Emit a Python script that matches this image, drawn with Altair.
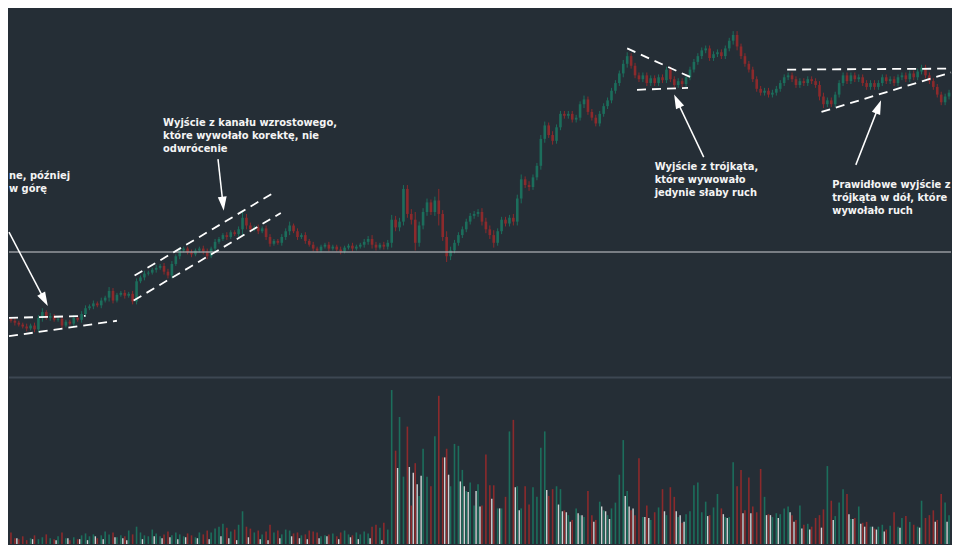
import altair as alt
import pandas as pd

# ---------------- data ----------------
# closing prices (arbitrary price units), one per candle
close = [
    75, 73, 71, 69, 67, 70, 66, 78, 84, 78, 80, 76, 77, 70, 74, 72, 78, 76, 82, 88,
    90, 93, 91, 96, 99, 106, 96, 102, 104, 101, 103, 95, 116, 120, 124, 125, 128, 130, 132, 126,
    122, 134, 142, 148, 150, 146, 144, 148, 150, 147, 142, 150, 157, 160, 164, 162, 167, 165, 170, 182,
    174, 170, 172, 168, 171, 162, 155, 158, 156, 162, 168, 174, 168, 162, 164, 158, 154, 150, 148, 152,
    154, 150, 152, 149, 147, 151, 153, 150, 152, 154, 157, 160, 154, 151, 154, 152, 156, 180, 172, 178,
    212, 186, 180, 156, 174, 188, 198, 188, 200, 186, 162, 142, 148, 156, 164, 170, 178, 184, 186, 188,
    178, 170, 164, 156, 168, 180, 176, 182, 178, 202, 222, 216, 214, 224, 236, 264, 278, 268, 262, 276,
    290, 288, 290, 284, 286, 300, 305, 292, 286, 280, 290, 298, 304, 314, 322, 332, 342, 350, 340, 330,
    326, 330, 322, 327, 322, 328, 325, 336, 326, 320, 324, 321, 328, 336, 344, 350, 356, 358, 348, 352,
    354, 350, 358, 366, 372, 360, 350, 342, 336, 326, 316, 312, 314, 310, 312, 316, 322, 328, 330, 326,
    320, 324, 322, 326, 324, 320, 308, 300, 304, 300, 310, 322, 330, 324, 330, 326, 328, 322, 318, 322,
    318, 322, 328, 324, 326, 322, 328, 330, 326, 332, 328, 334, 338, 330, 324, 318, 310, 302, 308, 312,
]
first_open = 77
# shadow length beyond the body, per candle
wick = [
    2, 3, 2, 2, 3, 2, 3, 3, 4, 2, 3, 2, 2, 3, 2, 2, 3, 2, 3, 3,
    2, 3, 2, 3, 2, 4, 3, 2, 2, 3, 2, 3, 3, 2, 3, 2, 2, 3, 2, 3,
    3, 3, 2, 3, 2, 2, 3, 2, 2, 3, 3, 2, 3, 2, 2, 3, 2, 2, 3, 6,
    4, 3, 2, 3, 2, 3, 3, 2, 2, 3, 3, 4, 2, 3, 2, 3, 2, 3, 2, 2,
    2, 3, 2, 2, 3, 2, 2, 3, 2, 2, 3, 3, 4, 3, 2, 3, 3, 5, 4, 4,
    4, 4, 5, 8, 4, 4, 4, 3, 4, 12, 4, 6, 4, 3, 3, 3, 3, 3, 3, 3,
    4, 4, 4, 5, 3, 3, 3, 3, 4, 4, 5, 3, 4, 3, 3, 4, 4, 3, 4, 3,
    3, 3, 3, 3, 3, 3, 4, 3, 3, 3, 3, 3, 3, 3, 3, 3, 4, 4, 3, 3,
    3, 3, 3, 3, 3, 3, 3, 3, 3, 3, 3, 3, 3, 3, 3, 3, 3, 3, 3, 3,
    3, 3, 3, 3, 4, 4, 3, 3, 3, 3, 3, 3, 3, 3, 3, 3, 3, 3, 3, 3,
    3, 3, 3, 3, 3, 3, 4, 4, 3, 3, 3, 3, 3, 3, 3, 3, 3, 3, 3, 3,
    3, 3, 3, 3, 3, 3, 3, 3, 3, 3, 3, 3, 3, 3, 3, 3, 3, 3, 3, 3,
]
# volume per candle
volume = [
    12, 6, 5, 8, 4, 6, 9, 5, 7, 10, 6, 5, 8, 12, 6, 4, 7, 5, 9, 11,
    8, 10, 6, 9, 13, 10, 12, 7, 9, 8, 14, 10, 18, 12, 9, 8, 15, 11, 8, 10,
    13, 9, 12, 10, 8, 11, 9, 7, 12, 10, 14, 12, 16, 18, 21, 17, 13, 15, 20, 34,
    18, 16, 12, 14, 10, 13, 20, 12, 14, 10, 15, 14, 11, 12, 9, 10, 14, 13, 12, 8,
    9, 10, 11, 8, 12, 14, 10, 9, 12, 10, 13, 11, 18, 20, 17, 22, 15, 160, 97, 132,
    70, 122, 40, 84, 50, 99, 70, 60, 112, 154, 90, 99, 60, 104, 102, 77, 55, 64, 40, 62,
    40, 93, 61, 61, 37, 37, 49, 117, 129, 60, 37, 60, 41, 59, 49, 100, 117, 50, 57, 60,
    57, 35, 30, 25, 37, 30, 28, 55, 30, 25, 44, 35, 30, 37, 43, 72, 108, 55, 35, 30,
    89, 28, 40, 25, 33, 38, 57, 30, 59, 49, 28, 22, 31, 34, 61, 64, 33, 44, 30, 38,
    52, 37, 28, 28, 85, 60, 77, 35, 69, 39, 33, 78, 49, 31, 28, 32, 31, 37, 39, 30,
    25, 40, 20, 21, 18, 27, 30, 36, 81, 45, 29, 43, 57, 52, 26, 27, 39, 22, 23, 18,
    16, 18, 20, 15, 19, 33, 18, 27, 29, 23, 20, 18, 45, 27, 30, 35, 25, 52, 43, 30,
]
# second (light) volume series, between candles; 0 = none
volume_alt = [
    0, 6, 0, 0, 0, 5, 0, 0, 0, 0, 0, 4, 0, 0, 6, 0, 0, 5, 0, 4,
    0, 8, 0, 5, 0, 0, 7, 0, 6, 4, 0, 0, 0, 5, 0, 0, 8, 0, 6, 0,
    7, 0, 5, 0, 7, 0, 0, 6, 0, 0, 5, 0, 0, 8, 0, 6, 0, 4, 0, 0,
    7, 0, 0, 5, 0, 4, 0, 0, 6, 0, 0, 8, 0, 6, 0, 5, 0, 0, 6, 0,
    8, 0, 0, 5, 0, 0, 7, 0, 5, 0, 0, 6, 0, 0, 4, 0, 0, 0, 79, 0,
    0, 80, 74, 62, 71, 0, 0, 0, 0, 0, 90, 72, 0, 0, 65, 60, 54, 0, 55, 39,
    0, 0, 47, 0, 37, 0, 0, 0, 59, 35, 0, 0, 0, 0, 0, 0, 56, 0, 0, 41,
    34, 33, 23, 0, 32, 30, 0, 0, 23, 0, 39, 34, 26, 0, 0, 0, 50, 39, 37, 0,
    0, 28, 27, 0, 0, 0, 34, 0, 0, 34, 30, 23, 0, 0, 0, 0, 0, 29, 0, 0,
    0, 31, 27, 0, 0, 0, 32, 0, 32, 0, 0, 0, 30, 30, 0, 27, 0, 0, 33, 23,
    0, 16, 0, 15, 0, 0, 17, 0, 0, 25, 0, 0, 0, 31, 26, 0, 21, 18, 0, 18,
    15, 0, 13, 0, 0, 0, 17, 0, 0, 0, 0, 17, 0, 0, 0, 23, 0, 0, 23, 0,
]
support_level = 146.5

# annotation texts (one row per line)
notes = [
    "ne, później", "w górę",
    "Wyjście z kanału wzrostowego,", "które wywołało korektę, nie", "odwrócenie",
    "Wyjście z trójkąta,", "które wywowało", "jedynie słaby ruch",
    "Prawidłowe wyjście z", "trójkąta w dół, które", "wywołało ruch",
]
note_x = [-0.5, -0.5, 38.75, 38.75, 38.75, 164, 164, 164, 209.25, 209.25, 209.25]
note_y = [225, 212, 280, 267, 253, 235, 221, 208, 216, 203, 189]

# trend / pattern lines (candle index, price)
tl_x = [-0.5, -0.5, 31.5, 31.25, 157, 159.5, 197.75, 206.5]
tl_x2 = [27, 19, 66.5, 68.75, 173.75, 172.5, 239.5, 239.5]
tl_y = [59, 78, 122, 96, 358, 315, 336, 292]
tl_y2 = [75, 80, 207, 187, 327, 317, 337, 333]

# arrows: tail -> tip
ar_x = [-0.5, 52.75, 176.5, 215.25]
ar_y = [167, 243, 245, 237]
ar_x2 = [8.5, 54, 169.75, 221]
ar_y2 = [97, 197, 303, 297]
ar_angle = [152, 174, 335, 21]

# ---------------- tables ----------------
n = len(close)
open_ = [first_open] + close[:-1]
candles = pd.DataFrame({"i": list(range(n)), "open": open_, "close": close, "wick": wick})
candles["high"] = candles[["open", "close"]].max(axis=1) + candles["wick"]
candles["low"] = candles[["open", "close"]].min(axis=1) - candles["wick"]
candles["dir"] = ["up" if c >= o else "down" for o, c in zip(open_, close)]
candles["vol"] = volume

alt_vol = pd.DataFrame({"i": [k + 0.5 for k in range(n)], "vol": volume_alt})
alt_vol = alt_vol[alt_vol["vol"] > 0]

notes_df = pd.DataFrame({"t": notes, "x": note_x, "y": note_y})
lines_df = pd.DataFrame({"x": tl_x, "x2": tl_x2, "y": tl_y, "y2": tl_y2})
arrows_df = pd.DataFrame({"x": ar_x, "y": ar_y, "x2": ar_x2, "y2": ar_y2, "a": ar_angle})

BG = "#252e36"
xs = alt.Scale(domain=[-0.5, n - 0.5], nice=False, zero=False)
ps = alt.Scale(domain=[-157, 400], nice=False, zero=False)
vs = alt.Scale(domain=[0, 557], nice=False, zero=False)
cs_candle = alt.Scale(domain=["up", "down"], range=["#22a07e", "#d42e2e"])
cs_vol = alt.Scale(domain=["up", "down"], range=["#1c6e5c", "#8c2a2c"])

X = alt.X("i:Q", scale=xs, axis=None)

vol_bars = alt.Chart(candles).mark_rule(strokeWidth=1.6).encode(
    x=X,
    y=alt.Y("vol:Q", scale=vs, axis=None),
    y2=alt.datum(0),
    color=alt.Color("dir:N", scale=cs_vol, legend=None),
)
vol_alt = alt.Chart(alt_vol).mark_rule(strokeWidth=1.4, color="#cfd2d4").encode(
    x=X,
    y=alt.Y("vol:Q", scale=vs, axis=None),
    y2=alt.datum(0),
)
separator = alt.Chart(pd.DataFrame({"y": [16]})).mark_rule(color="#3d4752", strokeWidth=2).encode(
    y=alt.Y("y:Q", scale=ps, axis=None)
)
wicks = alt.Chart(candles).mark_rule(strokeWidth=1).encode(
    x=X,
    y=alt.Y("low:Q", scale=ps, axis=None),
    y2="high:Q",
    color=alt.Color("dir:N", scale=cs_candle, legend=None),
)
bodies = alt.Chart(candles).mark_rule(strokeWidth=2.6).encode(
    x=X,
    y=alt.Y("open:Q", scale=ps, axis=None),
    y2="close:Q",
    color=alt.Color("dir:N", scale=cs_candle, legend=None),
)
support = alt.Chart(pd.DataFrame({"y": [support_level]})).mark_rule(
    color="#a9adb1", strokeWidth=1.5, opacity=0.85
).encode(y=alt.Y("y:Q", scale=ps, axis=None))

trend = alt.Chart(lines_df).mark_rule(
    color="white", strokeWidth=1.8, strokeDash=[9, 6]
).encode(
    x=alt.X("x:Q", scale=xs, axis=None), x2="x2:Q",
    y=alt.Y("y:Q", scale=ps, axis=None), y2="y2:Q",
)
arrow_lines = alt.Chart(arrows_df).mark_rule(color="white", strokeWidth=1.5).encode(
    x=alt.X("x:Q", scale=xs, axis=None), x2="x2:Q",
    y=alt.Y("y:Q", scale=ps, axis=None), y2="y2:Q",
)
arrow_heads = alt.Chart(arrows_df).mark_point(
    shape="M0,-1L0.6,0.9L-0.6,0.9Z", filled=True, color="white", opacity=1, size=220
).encode(
    x=alt.X("x2:Q", scale=xs, axis=None),
    y=alt.Y("y2:Q", scale=ps, axis=None),
    angle=alt.Angle("a:Q", scale=None),
)
texts = alt.Chart(notes_df).mark_text(
    align="left", baseline="middle", font="DejaVu Sans Condensed, DejaVu Sans",
    fontSize=11, fontWeight="bold", color="#f4f4f4"
).encode(
    x=alt.X("x:Q", scale=xs, axis=None),
    y=alt.Y("y:Q", scale=ps, axis=None),
    text="t:N",
)

chart = alt.layer(
    vol_bars, vol_alt, separator, wicks, bodies, support, trend, arrow_lines, arrow_heads, texts
).resolve_scale(y="independent").properties(
    width=944, height=537, background=BG, padding=0,
    autosize=alt.AutoSizeParams(type="fit", contains="padding"),
).configure_view(stroke=None)

chart.save("out.html", embed_options={"renderer": "svg", "actions": False})
